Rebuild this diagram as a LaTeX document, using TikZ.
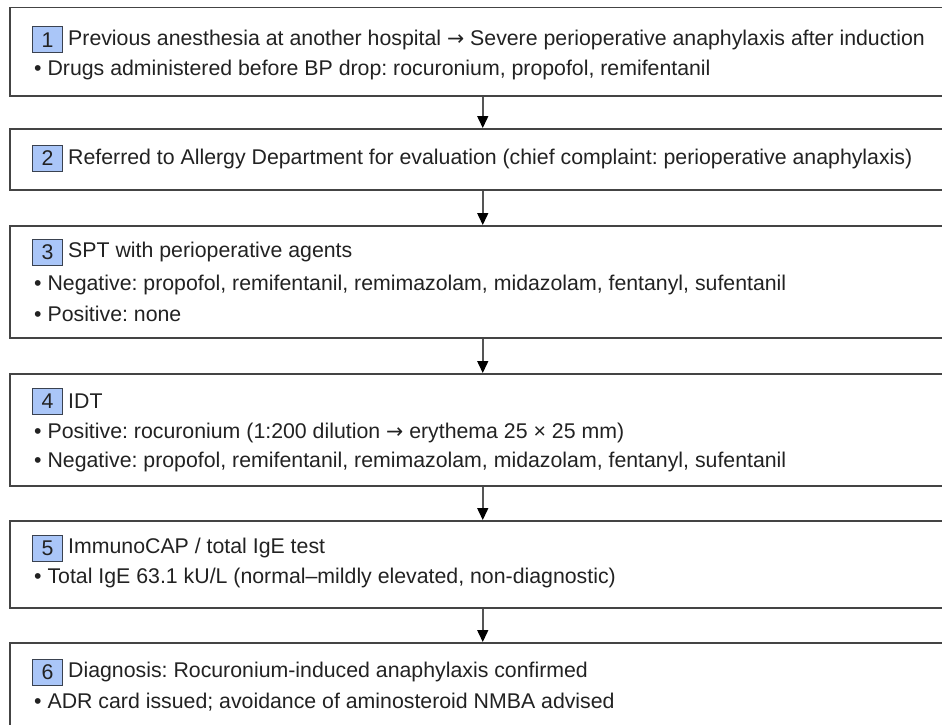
\documentclass[tikz,border=0pt]{standalone}
\usepackage{fontspec}
\setmainfont{Liberation Sans}
\newfontfamily\arrowfont{DejaVu Sans}
\usetikzlibrary{arrows.meta}
\definecolor{txt}{HTML}{222222}
\definecolor{edge}{HTML}{444444}
\definecolor{labfill}{HTML}{AAC6F8}
\definecolor{labedge}{HTML}{3A4250}
\definecolor{arrline}{HTML}{555555}
\newcommand{\rarr}{{\arrowfont\fontsize{20.5}{22}\selectfont →}}
\tikzset{
  stepbox/.style={draw=edge, line width=1.5pt, fill=white, anchor=north west, minimum width=946pt, inner sep=0pt},
  numlab/.style={draw=labedge, line width=1pt, fill=labfill, minimum width=30pt, minimum height=26pt, inner sep=0pt, anchor=west, text=txt, font=\fontsize{21.3}{24}\selectfont},
  head/.style={anchor=west, inner sep=0pt, text=txt, font=\fontsize{21.3}{24}\selectfont\frenchspacing},
  bul/.style={anchor=west, inner sep=0pt, text=txt, font=\fontsize{21.3}{24}\selectfont\frenchspacing},
  arr/.style={draw=arrline, line width=1.5pt, -{Triangle[length=12pt,width=11pt,fill=black,color=black]}},
}
\begin{document}
\begin{tikzpicture}[x=1pt,y=-1pt]
\useasboundingbox (0,0) rectangle (942,725);
\clip (0,0) rectangle (942,725);
\fill[white] (0,0) rectangle (942,725);
% boxes
\node[stepbox, minimum height=88pt] (b1) at (9,7) {};
\node[stepbox, minimum height=61pt] (b2) at (9,128) {};
\node[stepbox, minimum height=112pt] (b3) at (9,225) {};
\node[stepbox, minimum height=112pt] (b4) at (9,373) {};
\node[stepbox, minimum height=87pt] (b5) at (9,520) {};
\node[stepbox, minimum height=88pt] (b6) at (9,642) {};
% arrows
\draw[arr] (b1.south) -- (b2.north);
\draw[arr] (b2.south) -- (b3.north);
\draw[arr] (b3.south) -- (b4.north);
\draw[arr] (b4.south) -- (b5.north);
\draw[arr] (b5.south) -- (b6.north);
% box 1
\node[numlab] (l1) at (32,40) {1};
\node[head] (h1) at (68,40) {Previous anesthesia at another hospital \rarr{} Severe perioperative anaphylaxis after induction};
\node[bul] (t1a) at (34,70) {• Drugs administered before BP drop: rocuronium, propofol, remifentanil};
% box 2
\node[numlab] (l2) at (32,158.5) {2};
\node[head] (h2) at (68,158.5) {Referred to Allergy Department for evaluation (chief complaint: perioperative anaphylaxis)};
% box 3
\node[numlab] (l3) at (32,252) {3};
\node[head] (h3) at (68,252) {SPT with perioperative agents};
\node[bul] (t3a) at (34,285) {• Negative: propofol, remifentanil, remimazolam, midazolam, fentanyl, sufentanil};
\node[bul] (t3b) at (34,314) {• Positive: none};
% box 4
\node[numlab] (l4) at (32,401) {4};
\node[head] (h4) at (68,401) {IDT};
\node[bul] (t4a) at (34,433) {• Positive: rocuronium (1:200 dilution \rarr{} erythema 25 × 25 mm)};
\node[bul] (t4b) at (34,462) {• Negative: propofol, remifentanil, remimazolam, midazolam, fentanyl, sufentanil};
% box 5
\node[numlab] (l5) at (32,548) {5};
\node[head] (h5) at (68,548) {ImmunoCAP / total IgE test};
\node[bul] (t5a) at (34,578) {• Total IgE 63.1 kU/L (normal–mildly elevated, non-diagnostic)};
% box 6
\node[numlab] (l6) at (32,672) {6};
\node[head] (h6) at (68,672) {Diagnosis: Rocuronium-induced anaphylaxis confirmed};
\node[bul] (t6a) at (34,702) {• ADR card issued; avoidance of aminosteroid NMBA advised};
\end{tikzpicture}
\end{document}
